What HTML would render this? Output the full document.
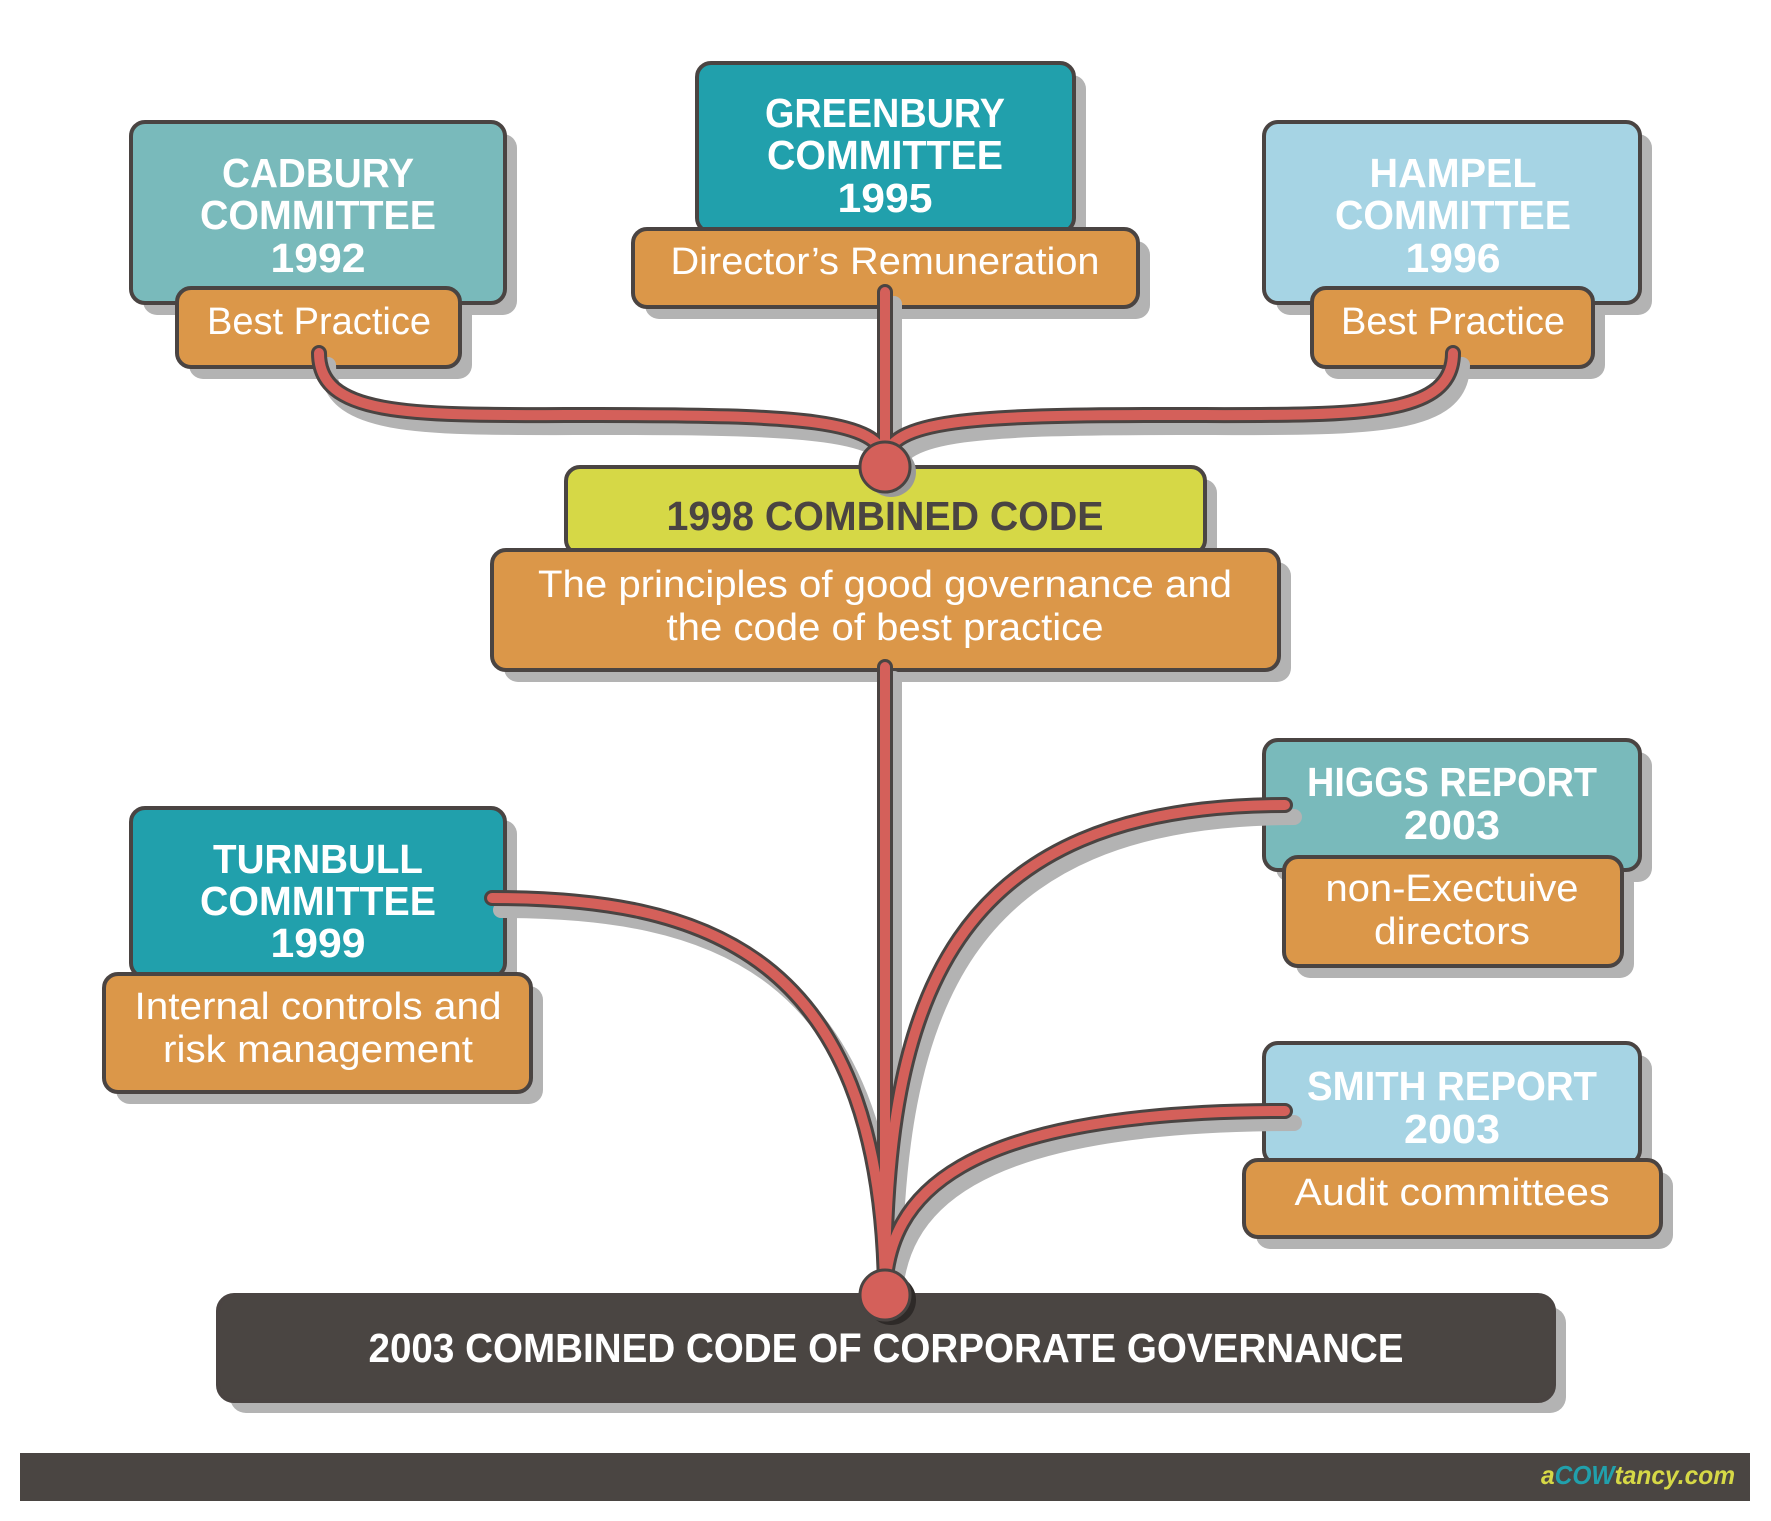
<!DOCTYPE html>
<html><head><meta charset="utf-8"><style>
html,body{margin:0;padding:0;background:#fff;}
svg{display:block;}
text{font-family:"Liberation Sans Narrow","Liberation Sans",sans-serif;dominant-baseline:central;text-anchor:middle;}
.t{fill:#fff;font-weight:bold;font-size:41px;}
.o{fill:#fff;font-size:38px;}
</style></head><body>
<svg width="1771" height="1521" viewBox="0 0 1771 1521" xmlns="http://www.w3.org/2000/svg">
<g fill="#b3b3b3">
<rect x="143" y="134" width="374" height="181" rx="14"/>
<rect x="709" y="75" width="377" height="169" rx="14"/>
<rect x="1276" y="134" width="376" height="181" rx="14"/>
<rect x="189" y="300" width="283" height="79" rx="14"/>
<rect x="645" y="241" width="505" height="78" rx="14"/>
<rect x="1324" y="300" width="281" height="79" rx="14"/>
<rect x="578" y="479" width="639" height="87" rx="14"/>
<rect x="504" y="562" width="787" height="120" rx="14"/>
<rect x="143" y="820" width="374" height="169" rx="14"/>
<rect x="116" y="986" width="427" height="118" rx="14"/>
<rect x="1276" y="752" width="376" height="130" rx="14"/>
<rect x="1296" y="869" width="338" height="109" rx="14"/>
<rect x="1276" y="1055" width="376" height="121" rx="14"/>
<rect x="1256" y="1172" width="417" height="77" rx="14"/>
<rect x="230" y="1307" width="1336" height="106" rx="16"/>
</g>
<g stroke="#4a4442" stroke-width="4">
<rect x="131" y="122" width="374" height="181" rx="14" fill="#79babb"/>
<rect x="697" y="63" width="377" height="169" rx="14" fill="#21a0ac"/>
<rect x="1264" y="122" width="376" height="181" rx="14" fill="#a6d4e4"/>
<rect x="177" y="288" width="283" height="79" rx="14" fill="#db9749"/>
<rect x="633" y="229" width="505" height="78" rx="14" fill="#db9749"/>
<rect x="1312" y="288" width="281" height="79" rx="14" fill="#db9749"/>
<rect x="566" y="467" width="639" height="87" rx="14" fill="#d6d846"/>
<rect x="492" y="550" width="787" height="120" rx="14" fill="#db9749"/>
<rect x="131" y="808" width="374" height="169" rx="14" fill="#21a0ac"/>
<rect x="104" y="974" width="427" height="118" rx="14" fill="#db9749"/>
<rect x="1264" y="740" width="376" height="130" rx="14" fill="#79babb"/>
<rect x="1284" y="857" width="338" height="109" rx="14" fill="#db9749"/>
<rect x="1264" y="1043" width="376" height="121" rx="14" fill="#a6d4e4"/>
<rect x="1244" y="1160" width="417" height="77" rx="14" fill="#db9749"/>
<rect x="218" y="1295" width="1336" height="106" rx="16" fill="#4a4542"/>
</g>
<rect x="20" y="1453" width="1730" height="48" fill="#4a4542"/>
<g fill="none" stroke-linecap="round">
<g stroke="#b3b3b3" stroke-width="16" transform="translate(9,12)">
<path d="M319,353 C319,420 420,415 600,415 C800,415 880,420 885,460"/>
<path d="M1453,353 C1453,420 1350,415 1170,415 C970,415 890,420 885,460"/>
<path d="M885,292 L885,467"/>
<path d="M885,667 L885,1295"/>
<path d="M492,898 C700,898 880,950 885,1288"/>
<path d="M1285,805 C950,805 885,1000 885,1288"/>
<path d="M1285,1111 C950,1111 890,1200 885,1288"/>
</g>
<g stroke="#4a4442" stroke-width="16">
<path d="M319,353 C319,420 420,415 600,415 C800,415 880,420 885,460"/>
<path d="M1453,353 C1453,420 1350,415 1170,415 C970,415 890,420 885,460"/>
<path d="M885,292 L885,467"/>
<path d="M885,667 L885,1295"/>
<path d="M492,898 C700,898 880,950 885,1288"/>
<path d="M1285,805 C950,805 885,1000 885,1288"/>
<path d="M1285,1111 C950,1111 890,1200 885,1288"/>
</g>
<g stroke="#d4605a" stroke-width="10">
<path d="M319,353 C319,420 420,415 600,415 C800,415 880,420 885,460"/>
<path d="M1453,353 C1453,420 1350,415 1170,415 C970,415 890,420 885,460"/>
<path d="M885,292 L885,467"/>
<path d="M885,667 L885,1295"/>
<path d="M492,898 C700,898 880,950 885,1288"/>
<path d="M1285,805 C950,805 885,1000 885,1288"/>
<path d="M1285,1111 C950,1111 890,1200 885,1288"/>
</g>
</g>
<circle cx="891" cy="472" r="25" fill="#999"/>
<circle cx="891" cy="1300" r="25" fill="#2e2a28"/>
<circle cx="885" cy="467" r="25" fill="#d4605a" stroke="#4a4442" stroke-width="3"/>
<circle cx="885" cy="1295" r="25" fill="#d4605a" stroke="#4a4442" stroke-width="3"/>

<text class="t" x="318" y="173" textLength="192" lengthAdjust="spacingAndGlyphs">CADBURY</text>
<text class="t" x="318" y="215" textLength="236" lengthAdjust="spacingAndGlyphs">COMMITTEE</text>
<text class="t" x="318" y="258" textLength="95" lengthAdjust="spacingAndGlyphs">1992</text>
<text class="t" x="885" y="113" textLength="240" lengthAdjust="spacingAndGlyphs">GREENBURY</text>
<text class="t" x="885" y="155" textLength="236" lengthAdjust="spacingAndGlyphs">COMMITTEE</text>
<text class="t" x="885" y="198" textLength="95" lengthAdjust="spacingAndGlyphs">1995</text>
<text class="t" x="1453" y="173" textLength="167" lengthAdjust="spacingAndGlyphs">HAMPEL</text>
<text class="t" x="1453" y="215" textLength="236" lengthAdjust="spacingAndGlyphs">COMMITTEE</text>
<text class="t" x="1453" y="258" textLength="95" lengthAdjust="spacingAndGlyphs">1996</text>
<text class="o" x="319" y="322" textLength="224" lengthAdjust="spacingAndGlyphs">Best Practice</text>
<text class="o" x="885" y="262" textLength="429" lengthAdjust="spacingAndGlyphs">Director’s Remuneration</text>
<text class="o" x="1453" y="322" textLength="224" lengthAdjust="spacingAndGlyphs">Best Practice</text>
<text class="t" x="885" y="516" fill="#4a4442" style="fill:#4a4442" textLength="437" lengthAdjust="spacingAndGlyphs">1998 COMBINED CODE</text>
<text class="o" x="885" y="585" textLength="694" lengthAdjust="spacingAndGlyphs">The principles of good governance and</text>
<text class="o" x="885" y="628" textLength="437" lengthAdjust="spacingAndGlyphs">the code of best practice</text>
<text class="t" x="318" y="859" textLength="210" lengthAdjust="spacingAndGlyphs">TURNBULL</text>
<text class="t" x="318" y="901" textLength="236" lengthAdjust="spacingAndGlyphs">COMMITTEE</text>
<text class="t" x="318" y="943" textLength="95" lengthAdjust="spacingAndGlyphs">1999</text>
<text class="o" x="318" y="1007" textLength="367" lengthAdjust="spacingAndGlyphs">Internal controls and</text>
<text class="o" x="318" y="1050" textLength="310" lengthAdjust="spacingAndGlyphs">risk management</text>
<text class="t" x="1452" y="782" textLength="290" lengthAdjust="spacingAndGlyphs">HIGGS REPORT</text>
<text class="t" x="1452" y="825" textLength="96" lengthAdjust="spacingAndGlyphs">2003</text>
<text class="o" x="1452" y="889" textLength="253" lengthAdjust="spacingAndGlyphs">non-Exectuive</text>
<text class="o" x="1452" y="932" textLength="156" lengthAdjust="spacingAndGlyphs">directors</text>
<text class="t" x="1452" y="1086" textLength="290" lengthAdjust="spacingAndGlyphs">SMITH REPORT</text>
<text class="t" x="1452" y="1129" textLength="96" lengthAdjust="spacingAndGlyphs">2003</text>
<text class="o" x="1452" y="1193" textLength="315" lengthAdjust="spacingAndGlyphs">Audit committees</text>
<text class="t" x="886" y="1348" textLength="1035" lengthAdjust="spacingAndGlyphs">2003 COMBINED CODE OF CORPORATE GOVERNANCE</text>
<text x="1638" y="1475" style="font-size:26px;font-weight:bold;font-style:italic" textLength="194" lengthAdjust="spacingAndGlyphs"><tspan fill="#d6d846">a</tspan><tspan fill="#21a0ac">COW</tspan><tspan fill="#d6d846">tancy.com</tspan></text>
</svg>
</body></html>
